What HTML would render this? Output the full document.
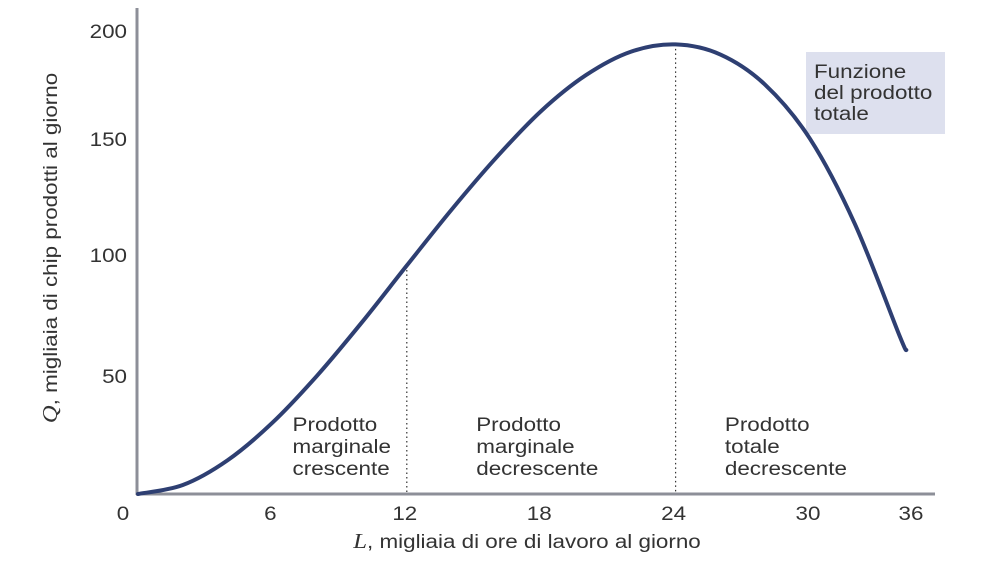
<!DOCTYPE html>
<html><head><meta charset="utf-8"><style>
body{margin:0;background:#fff;width:991px;height:556px;overflow:hidden}
svg{font-family:"Liberation Sans",sans-serif}
</style></head><body>
<svg id="chart" width="991" height="556" viewBox="0 0 991 556"></svg>
<script>
const labourValues=[0,2,4,6,8,10,12,14,16,18,20,22,24,26,28,30,32,34,34.3];
const outputValues=[0,3.8,14.3,30.2,50.2,72.8,96.8,120.5,142.6,162.3,177.5,187.4,190.5,186.2,173.4,150.5,114.5,67,61];
const xTickLabels=[0,6,12,18,24,30,36];
const yTickLabels=[50,100,150,200];
const dividerValues=[12,24];
const regionLabels=[["Prodotto","marginale","crescente"],["Prodotto","marginale","decrescente"],["Prodotto","totale","decrescente"]];
const regionStarts=[6.9,15.1,26.2];

const NS="http://www.w3.org/2000/svg";
const svg=document.getElementById('chart');
const x=v=>138+v*22.4;
const y=v=>494-v*2.36;
function mk(tag,attrs,parent){const e=document.createElementNS(NS,tag);for(const k in attrs)e.setAttribute(k,attrs[k]);(parent||svg).appendChild(e);return e;}
function txt(px,py,anchor,rot){
  const t=mk('text',{x:0,y:0,'font-size':19,fill:'#333','text-anchor':anchor,transform:`translate(${px},${py})${rot?' rotate(-90)':''} scale(1.18,1)`});
  return t;
}

// legend box
const lb=mk('rect',{x:806,y:52,width:139,height:82,fill:'#dde0ee'});


["Funzione","del prodotto","totale"].forEach((t,i)=>{
  const tx=txt(814,78+i*21,'start');tx.textContent=t;
  
  
});

// axes
const ya=mk('line',{x1:137,y1:8,x2:137,y2:495,stroke:'#8d8f98','stroke-width':3});


const xa=mk('line',{x1:136,y1:494,x2:935,y2:494,stroke:'#8d8f98','stroke-width':3});



xTickLabels.forEach(v=>{
  const px=v===36?911:x(v)-(v===0?15:2);
  const t=txt(px,520,'middle');t.textContent=v;
  
  
});
yTickLabels.forEach(v=>{
  const t=txt(127,y(v)+7+(v===200?9:0)+(v===150?-1:0)+(v===100?-3:0),'end');t.textContent=v;
  
  
});

// dividers
dividerValues.forEach(v=>{
  const i=labourValues.indexOf(v);
  const l=mk('line',{x1:x(v),y1:y(outputValues[i]),x2:x(v),y2:493,stroke:'#333','stroke-width':1.2,'stroke-dasharray':'1.5,3'});
  
  
});

// curve (catmull-rom)
const pts=labourValues.map((v,i)=>[x(v),y(outputValues[i])]);
let d=`M${pts[0][0]},${pts[0][1]}`;
for(let i=0;i<pts.length-1;i++){
  const p0=pts[Math.max(i-1,0)],p1=pts[i],p2=pts[i+1],p3=pts[Math.min(i+2,pts.length-1)];
  d+=` C${p1[0]+(p2[0]-p0[0])/6},${p1[1]+(p2[1]-p0[1])/6} ${p2[0]-(p3[0]-p1[0])/6},${p2[1]-(p3[1]-p1[1])/6} ${p2[0]},${p2[1]}`;
}
const c=mk('path',{d:d,fill:'none',stroke:'#2e3f72','stroke-width':4,'stroke-linecap':'round'});



// region labels
regionLabels.forEach((lines,r)=>{
  lines.forEach((t,i)=>{
    const tx=txt(x(regionStarts[r]),431+i*22,'start');tx.textContent=t;
    
    
  });
});

// axis titles
const xt=txt(527,548,'middle');
xt.innerHTML='<tspan font-family="Liberation Serif" font-style="italic" font-size="21">L</tspan>,  migliaia di ore di lavoro al giorno';


const yt=txt(57,248,'middle',true);
yt.innerHTML='<tspan font-family="Liberation Serif" font-style="italic" font-size="21">Q</tspan>,  migliaia di chip prodotti al giorno';


</script>
</body></html>
